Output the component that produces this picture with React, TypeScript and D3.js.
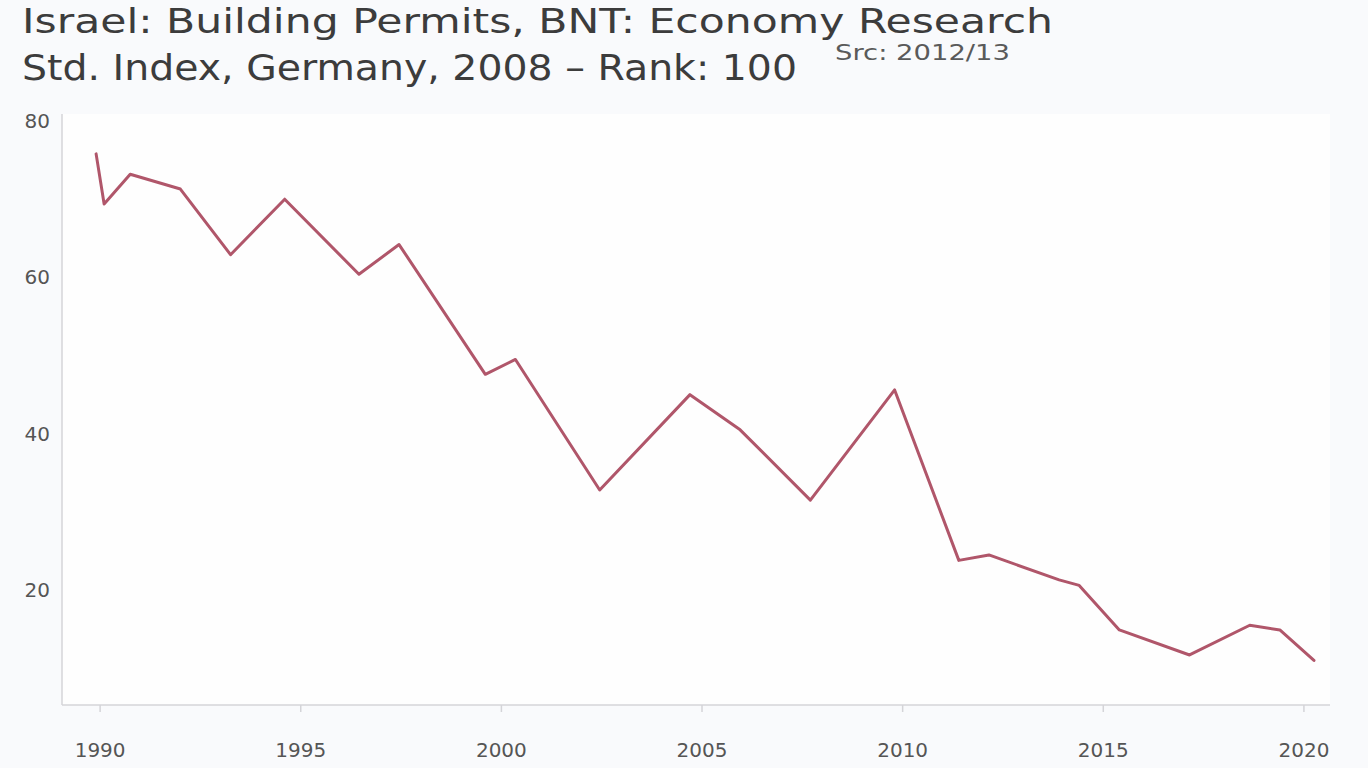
import React from "react";
import * as d3 from "d3";

const titleLine1 = "Israel: Building Permits, BNT: Economy Research";
const titleLine2 = "Std. Index, Germany, 2008 – Rank: 100";
const titleNote = "Src: 2012/13";

const years: number[] = [
  1989.9, 1990.1, 1990.75, 1992.0, 1993.25, 1994.6, 1996.45, 1997.45, 1999.6,
  2000.35, 2002.45, 2004.7, 2005.95, 2007.7, 2009.8, 2011.4, 2012.15, 2013.9,
  2014.4, 2015.4, 2017.15, 2018.65, 2019.4, 2020.25,
];
const values: number[] = [
  75.8, 69.4, 73.2, 71.3, 62.9, 70.0, 60.4, 64.2, 47.6,
  49.5, 32.8, 45.0, 40.5, 31.5, 45.6, 23.8, 24.5, 21.3,
  20.6, 14.9, 11.7, 15.5, 14.9, 11.0,
];
const xTicks: number[] = [1990, 1995, 2000, 2005, 2010, 2015, 2020];
const yTicks: number[] = [20, 40, 60, 80];

const W = 1368;
const H = 768;
const left = 62;
const right = 1330;
const top = 114;
const bottom = 705;

export default function App() {
  const x = d3.scaleLinear().domain([1989.05, 2020.65]).range([left, right]);
  const y = d3.scaleLinear().domain([5.3, 80.9]).range([bottom, top]);
  const pts = years.map((yr, i) => [yr, values[i]] as [number, number]);
  const line = d3
    .line<[number, number]>()
    .x((d) => x(d[0]))
    .y((d) => y(d[1]))
    .curve(d3.curveLinear);

  const font = "'DejaVu Sans', sans-serif";
  return (
    <svg
      width={W}
      height={H}
      style={{ position: "absolute", left: 0, top: 0, display: "block" }}
    >
      <rect x={0} y={0} width={W} height={H} fill="#f9fafc" />
      <rect x={left} y={top} width={right - left} height={bottom - top} fill="#fefefe" />
      <text x={22} y={33} fontFamily={font} fontSize={34} fill="#3c3c3c" textLength={1031} lengthAdjust="spacingAndGlyphs">
        {titleLine1}
      </text>
      <text x={22} y={80} fontFamily={font} fontSize={35} fill="#3c3c3c" textLength={775} lengthAdjust="spacingAndGlyphs">
        {titleLine2}
      </text>
      <text x={835} y={60} fontFamily={font} fontSize={21} fill="#5a5a5a" textLength={175} lengthAdjust="spacingAndGlyphs">
        {titleNote}
      </text>
      <line x1={left} x2={left} y1={top} y2={bottom} stroke="#d4d4d8" strokeWidth={1.5} />
      <line x1={left} x2={right} y1={bottom} y2={bottom} stroke="#d4d4d8" strokeWidth={1.5} />
      {yTicks.map((t) => (
        <text key={t} x={50} y={y(t)} dy="0.35em" textAnchor="end" fontFamily={font} fontSize={20} fill="#555">
          {t}
        </text>
      ))}
      {xTicks.map((t) => (
        <g key={t}>
          <line x1={x(t)} x2={x(t)} y1={bottom} y2={bottom + 7} stroke="#d4d4d8" strokeWidth={1.5} />
          <text x={x(t)} y={757} textAnchor="middle" fontFamily={font} fontSize={20} fill="#555">
            {t}
          </text>
        </g>
      ))}
      <path d={line(pts) || ""} fill="none" stroke="#b0566a" strokeWidth={3} strokeLinejoin="round" strokeLinecap="round" />
    </svg>
  );
}
